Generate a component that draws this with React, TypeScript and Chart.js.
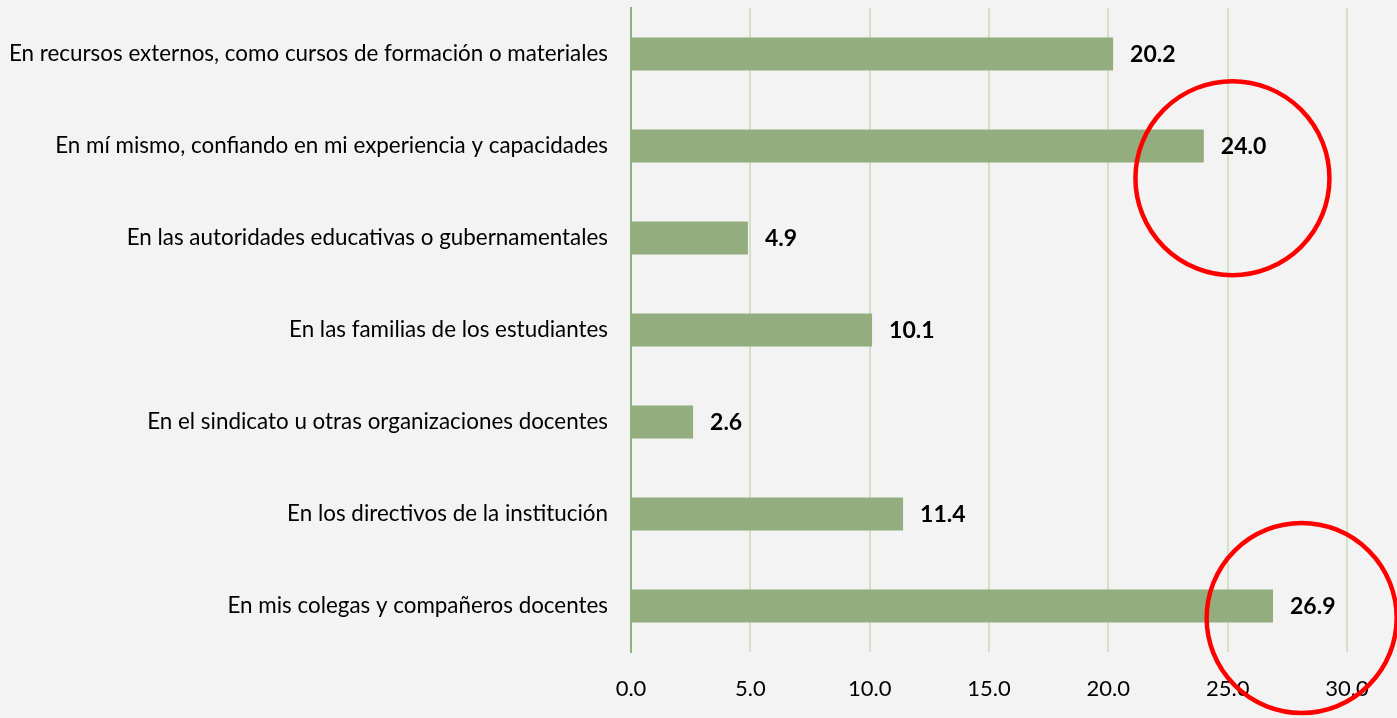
import React, { useEffect, useRef } from "react";
import { Chart, registerables } from "chart.js";

Chart.register(...registerables);

const categories = [
  "En recursos externos, como cursos de formación o materiales",
  "En mí mismo, confiando en mi experiencia y capacidades",
  "En las autoridades educativas o gubernamentales",
  "En las familias de los estudiantes",
  "En el sindicato u otras organizaciones docentes",
  "En los directivos de la institución",
  "En mis colegas y compañeros docentes",
];
const values = [20.2, 24.0, 4.9, 10.1, 2.6, 11.4, 26.9];
const xTicks = [0, 5, 10, 15, 20, 25, 30];
// red circle annotations: centre in data units (value, category index), radius in px
const circleX = [25.2, 28.1];
const circleY = [1.35, 6.13];
const circleR = [97, 95];

const FONT = "Lato, 'Open Sans', sans-serif";

export default function App() {
  const ref = useRef<HTMLCanvasElement>(null);
  useEffect(() => {
    document.body.style.margin = "0";
    document.body.style.background = "#f3f3f3";
    const canvas = ref.current!;
    const bgPlugin = {
      id: "bg",
      beforeDraw(chart: any) {
        const ctx = chart.ctx;
        ctx.save();
        ctx.fillStyle = "#f3f3f3";
        ctx.fillRect(0, 0, chart.width, chart.height);
        ctx.restore();
      },
    };
    const labelPlugin = {
      id: "vals",
      afterDatasetsDraw(chart: any) {
        const ctx = chart.ctx;
        const meta = chart.getDatasetMeta(0);
        ctx.save();
        ctx.font = `bold 23px ${FONT}`;
        ctx.fillStyle = "#000";
        ctx.textAlign = "left";
        ctx.textBaseline = "middle";
        meta.data.forEach((bar: any, i: number) => {
          ctx.fillText(values[i].toFixed(1), bar.x + 17, bar.y + 1);
        });
        ctx.restore();
      },
      afterDraw(chart: any) {
        const ctx = chart.ctx;
        const xs = chart.scales.x;
        const ys = chart.scales.y;
        ctx.save();
        ctx.strokeStyle = "#ff0000";
        ctx.lineWidth = 4.5;
        for (let i = 0; i < circleX.length; i++) {
          const cx = xs.getPixelForValue(circleX[i]);
          const cy = ys.getPixelForValue(circleY[i]);
          ctx.beginPath();
          ctx.arc(cx, cy, circleR[i], 0, Math.PI * 2);
          ctx.stroke();
        }
        ctx.restore();
      },
    };
    const chart = new Chart(canvas, {
      type: "bar",
      data: {
        labels: categories,
        datasets: [
          {
            data: values,
            backgroundColor: "#93ad7f",
            borderWidth: 0,
            barPercentage: 0.36,
            categoryPercentage: 1,
          },
        ],
      },
      options: {
        indexAxis: "y",
        animation: false,
        responsive: false,
        layout: { padding: { top: 8, right: 50, left: 0, bottom: 0 } },
        plugins: { legend: { display: false }, tooltip: { enabled: false } },
        scales: {
          x: {
            min: 0,
            max: 30,
            afterBuildTicks(scale: any) {
              scale.ticks = xTicks.map((v) => ({ value: v }));
            },
            afterFit(scale: any) {
              scale.height = 66;
            },
            grid: { color: "#d3e2c6", lineWidth: 2, drawTicks: false },
            border: { display: false },
            ticks: {
              padding: 24,
              color: "#000",
              font: { family: FONT, size: 22 },
              callback: (v: any) => Number(v).toFixed(1),
            },
          },
          y: {
            afterFit(scale: any) {
              scale.width = 631;
              scale.paddingTop = 0;
              scale.paddingBottom = 0;
            },
            grid: { display: false, drawTicks: false },
            border: { display: true, color: "#8fb47a", width: 2 },
            ticks: {
              padding: 23,
              color: "#000",
              font: { family: FONT, size: 22.4 },
            },
          },
        },
      },
      plugins: [bgPlugin, labelPlugin],
    });
    return () => chart.destroy();
  }, []);
  return <canvas ref={ref} width={1397} height={718} style={{ display: "block" }} />;
}
